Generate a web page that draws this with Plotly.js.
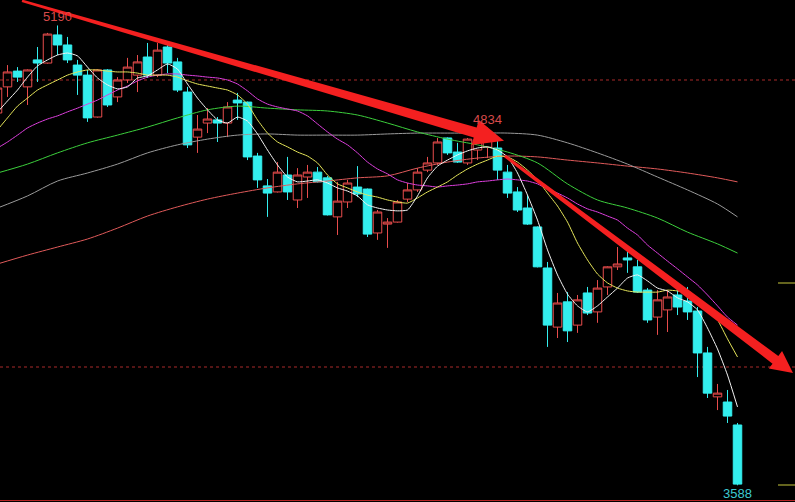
<!DOCTYPE html>
<html><head><meta charset="utf-8">
<script src="https://cdn.plot.ly/plotly-3.0.1.min.js"></script>
<style>html,body{margin:0;padding:0;background:#000;overflow:hidden}#chart{width:795px;height:502px}</style>
</head><body><div id="chart"></div>
<script>
// ---- candle data (index 0 is the partially visible bar at the left edge) ----
const openP = [4885,4976,5031,4976,5070,5059,5157,5122,5052,5017,4871,5035,4941,5000,5017,5080,5017,5115,5063,4958,
  4801,4850,4861,4850,4930,4923,4735,4631,4610,4669,4582,4662,4679,4659,4523,4575,4627,4620,4467,4498,
  4505,4585,4617,4686,4711,4798,4749,4711,4756,4766,4763,4679,4610,4554,4488,4345,4139,4227,4146,4258,
  4192,4279,4349,4380,4349,4268,4174,4199,4251,4230,4195,4049,3896,3878,3798];
const highP = [4983,5052,5045,5037,5115,5164,5190,5150,5070,5035,5038,5038,5010,5077,5087,5129,5129,5132,5077,4976,
  4878,4902,4871,4923,4955,4925,4746,4655,4714,4732,4693,4704,4697,4666,4645,4652,4700,4622,4547,4519,
  4582,4641,4693,4732,4798,4800,4781,4798,4808,4834,4798,4704,4627,4599,4490,4366,4258,4261,4251,4279,
  4303,4351,4418,4408,4373,4275,4268,4268,4268,4279,4209,4070,3941,3920,3805];
const lowP = [4878,4941,4993,4913,4993,5057,5087,5059,4948,4854,4869,4906,4923,4990,4958,5007,5010,5024,4958,4763,
  4746,4815,4784,4801,4861,4721,4624,4523,4608,4582,4554,4589,4643,4528,4460,4554,4592,4453,4443,4415,
  4503,4575,4610,4679,4704,4739,4711,4704,4721,4728,4652,4589,4540,4495,4347,4070,4101,4087,4119,4181,
  4154,4251,4338,4328,4258,4154,4112,4122,4181,4164,3965,3892,3850,3805,3588];
const closeP = [4972,5028,5010,5035,5059,5160,5122,5070,5017,4868,5035,4913,5000,5045,5063,5017,5104,5059,4965,4774,
  4829,4864,4850,4906,4920,4732,4652,4606,4679,4610,4669,4679,4645,4530,4578,4641,4603,4463,4540,4505,
  4575,4617,4679,4711,4784,4746,4714,4794,4791,4798,4686,4606,4547,4498,4349,4146,4223,4126,4234,4188,
  4275,4349,4359,4373,4261,4164,4234,4244,4209,4192,4049,3909,3909,3829,3592];

// ---- moving averages ----
const ma5 = [4888,4927,4965,5010,5049,5070,5087,5094,5084,5045,5007,4983,4969,4976,5007,5014,5035,5056,5038,4986,
  4937,4896,4861,4850,4871,4857,4812,4756,4704,4662,4645,4648,4652,4641,4624,4613,4596,4565,4554,4547,
  4544,4547,4596,4659,4700,4721,4739,4753,4763,4767,4756,4732,4676,4599,4512,4408,4321,4254,4213,4192,
  4213,4244,4275,4310,4321,4300,4275,4265,4241,4227,4199,4136,4063,3972,3861];
const ma10 = [4826,4868,4909,4937,4965,4983,5000,5017,5028,5035,5035,5031,5028,5028,5024,5017,5017,5017,5010,4997,
  4986,4979,4972,4965,4948,4916,4861,4815,4784,4767,4749,4735,4711,4669,4638,4624,4610,4599,4592,4582,
  4575,4571,4589,4610,4627,4645,4669,4690,4707,4721,4735,4732,4714,4686,4652,4606,4561,4505,4432,4373,
  4324,4293,4275,4265,4261,4261,4261,4268,4265,4258,4241,4202,4164,4098,4035];
const ma20 = [4763,4784,4808,4833,4850,4864,4875,4889,4902,4916,4930,4948,4965,4979,4997,5010,5017,5021,5021,5017,
  5014,5010,5007,5000,4986,4962,4934,4916,4906,4899,4892,4875,4847,4819,4794,4774,4746,4714,4690,4673,
  4652,4641,4634,4631,4627,4631,4634,4638,4645,4648,4652,4655,4652,4648,4638,4620,4606,4589,4568,4551,
  4540,4526,4512,4484,4460,4425,4397,4369,4342,4314,4286,4251,4213,4174,4146];
const slowIdx = [0,3,6,9,12,15,18,21,24,27,30,33,36,39,42,45,48,51,54,57,60,63,66,69,72,74];
const maGreen = [4676,4707,4746,4781,4808,4836,4868,4896,4909,4902,4896,4892,4878,4850,4819,4794,4774,4749,4711,4638,4582,4554,4519,4470,4429,4397];
const maGray  = [4554,4596,4648,4676,4707,4746,4774,4794,4808,4812,4808,4808,4808,4812,4815,4815,4815,4815,4808,4781,4746,4707,4662,4617,4568,4523];
const maRed   = [4359,4390,4418,4446,4484,4526,4558,4585,4606,4624,4638,4648,4659,4666,4693,4714,4728,4735,4732,4721,4711,4700,4690,4676,4659,4645];

const levels = [5000, 4000];
const markIdx = [6, 49, 74];
const markVal = [5190, 4834, 3588];
const markText = ['5190', '4834', '3588'];

// trend arrows, tail and tip as (bar index, price)
const arrow1 = [[2.45, 5276], [50.65, 4788]];
const arrow2 = [[50.75, 4735], [79.55, 3979]];

const idx = openP.map((_, i) => i);

const W = 795, H = 502, X0 = 0.25, X1 = 79.75, Y0 = 3529.7, Y1 = 5278.7;
function toPx(p) { return [(p[0] - X0) / (X1 - X0) * W, (Y1 - p[1]) / (Y1 - Y0) * H]; }
function arrowPath(a, w0, w1, wh, L) {
  const [x0, y0] = toPx(a[0]), [x1, y1] = toPx(a[1]);
  const dx = x1 - x0, dy = y1 - y0, len = Math.hypot(dx, dy);
  const ux = dx / len, uy = dy / len, nx = -uy, ny = ux;
  const bx = x1 - ux * L, by = y1 - uy * L;
  const pts = [[x0 + nx * w0, y0 + ny * w0], [bx + nx * w1, by + ny * w1], [bx + nx * wh, by + ny * wh], [x1, y1],
    [bx - nx * wh, by - ny * wh], [bx - nx * w1, by - ny * w1], [x0 - nx * w0, y0 - ny * w0]];
  return 'M' + pts.map(p => (p[0] / W).toFixed(5) + ',' + (1 - p[1] / H).toFixed(5)).join(' L') + ' Z';
}

const RED = '#e84c4c', CYAN = '#33eeee';
const traces = [
  {type: 'candlestick', x: idx, open: openP, high: highP, low: lowP, close: closeP,
   increasing: {line: {color: RED, width: 1}, fillcolor: 'rgba(0,0,0,0)'},
   decreasing: {line: {color: CYAN, width: 1}, fillcolor: CYAN},
   whiskerwidth: 0, hoverinfo: 'skip', showlegend: false},
  {type: 'scatter', mode: 'lines', x: slowIdx, y: maRed, line: {color: '#e05a5a', width: 1, shape: 'spline', smoothing: 0.8}, hoverinfo: 'skip'},
  {type: 'scatter', mode: 'lines', x: slowIdx, y: maGray, line: {color: '#9a9a9a', width: 1, shape: 'spline', smoothing: 0.8}, hoverinfo: 'skip'},
  {type: 'scatter', mode: 'lines', x: slowIdx, y: maGreen, line: {color: '#3ccf3c', width: 1, shape: 'spline', smoothing: 0.8}, hoverinfo: 'skip'},
  {type: 'scatter', mode: 'lines', x: idx, y: ma20, line: {color: '#dd3fdd', width: 1, shape: 'spline', smoothing: 0.5}, hoverinfo: 'skip'},
  {type: 'scatter', mode: 'lines', x: idx, y: ma10, line: {color: '#e6e65a', width: 1, shape: 'spline', smoothing: 0.5}, hoverinfo: 'skip'},
  {type: 'scatter', mode: 'lines', x: idx, y: ma5, line: {color: '#f4f4f4', width: 1, shape: 'spline', smoothing: 0.5}, hoverinfo: 'skip'}
];

const shapes = levels.map(v => ({type: 'line', xref: 'paper', x0: 0, x1: 1, yref: 'y', y0: v, y1: v,
  line: {color: '#a82a2a', width: 1, dash: '3px,3px'}, layer: 'below'}));
shapes.push({type: 'line', xref: 'paper', x0: 0, x1: 1, yref: 'paper', y0: 1.5 / H, y1: 1.5 / H, line: {color: '#b42424', width: 1}});
shapes.push({type: 'line', xref: 'paper', x0: 778 / W, x1: 1, yref: 'paper', y0: 1 - 283 / H, y1: 1 - 283 / H, line: {color: '#c8c83c', width: 1}});
shapes.push({type: 'line', xref: 'paper', x0: 778 / W, x1: 1, yref: 'paper', y0: 1 - 485 / H, y1: 1 - 485 / H, line: {color: '#c8c83c', width: 1}});
shapes.push({type: 'path', xref: 'paper', yref: 'paper', path: arrowPath(arrow1, 1.2, 5.2, 13, 30), fillcolor: '#f42020', line: {width: 0}});
shapes.push({type: 'path', xref: 'paper', yref: 'paper', path: arrowPath(arrow2, 1.5, 4.8, 11, 22), fillcolor: '#f42020', line: {width: 0}});

const annotations = markIdx.map((i, n) => ({
  x: i, y: markVal[n], xref: 'x', yref: 'y', text: markText[n], showarrow: false,
  yanchor: n === 2 ? 'top' : 'bottom', yshift: n === 2 ? 1 : -1,
  font: {family: 'Liberation Sans, Arial, sans-serif', size: 13, color: n === 2 ? '#3ccad2' : '#d84a4a'}
}));

const layout = {
  width: W, height: H, autosize: false,
  margin: {l: 0, r: 0, t: 0, b: 0, pad: 0},
  paper_bgcolor: '#000', plot_bgcolor: '#000',
  showlegend: false, boxgap: 0.15, boxgroupgap: 0,
  xaxis: {range: [X0, X1], visible: false, showgrid: false, zeroline: false, rangeslider: {visible: false}, fixedrange: true},
  yaxis: {range: [Y0, Y1], visible: false, showgrid: false, zeroline: false, fixedrange: true},
  shapes: shapes, annotations: annotations
};
Plotly.newPlot('chart', traces, layout, {staticPlot: true, displayModeBar: false});
</script>
</body></html>
